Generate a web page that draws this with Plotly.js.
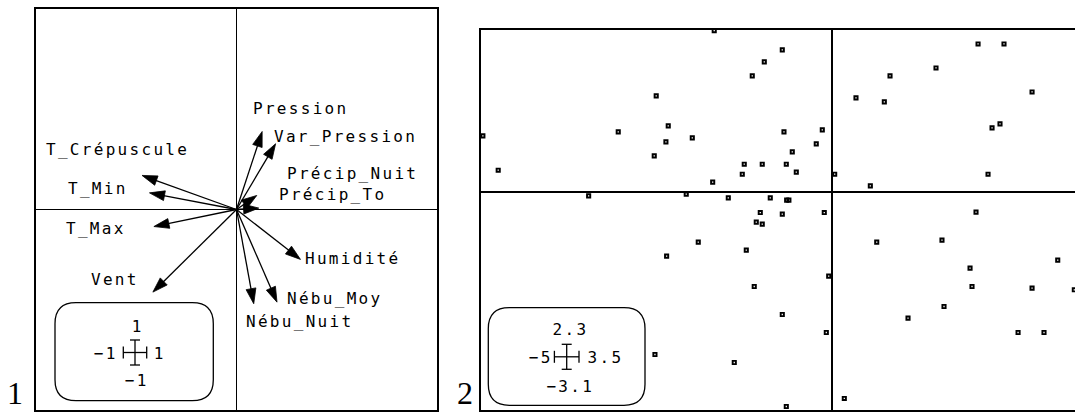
<!DOCTYPE html>
<html><head><meta charset="utf-8">
<script src="https://cdn.plot.ly/plotly-3.0.1.min.js"></script>
<style>html,body{margin:0;padding:0;overflow:hidden;background:#fff}</style>
</head><body><div id="chart"></div>
<script>
// ---- Data: panel 1, correlation circle (variables on axes 1 and 2)
const VARIABLES = ['T_Crépuscule','T_Min','T_Max','Vent','Pression','Var_Pression','Précip_Nuit','Précip_To','Humidité','Nébu_Moy','Nébu_Nuit'];
const VAR_AXIS1 = [-0.471,-0.434,-0.412,-0.417, 0.128, 0.195, 0.101, 0.111, 0.319, 0.202, 0.086];
const VAR_AXIS2 = [ 0.170, 0.083,-0.085,-0.412, 0.389, 0.328, 0.070, 0.007,-0.249,-0.462,-0.470];

// ---- Data: panel 2, observations (scores on axes 1 and 2)
const OBS_AXIS1 = [-2.504,-2.333,-3.044,-4.969,-2.366,-2.532,-4.751,-1.679,-0.711,-0.967,-1.138,-1.991,-0.687,-0.142,-0.228,-0.569,-1.252,-0.996,-0.654,-1.280,-0.512,-1.701,
  0.034,0.337,0.541,2.073,2.442,1.475,0.821,2.841,0.740,2.385,2.272,2.215,
  -3.465,-2.077,-1.479,-0.882,-0.649,-0.617,-1.024,-0.711,-0.114,-2.356,-2.522,-1.081,-0.996,-1.906,-1.223,-0.051,-1.110,-0.711,-0.085,-1.394,-0.654,
  0.171,0.632,1.560,1.959,1.987,1.589,1.077,3.206,2.841,3.442,2.642,3.011,2.044];
const OBS_AXIS2 = [1.364,0.938,0.852,0.795,0.710,0.511,0.308,2.290,2.017,1.847,1.648,0.767,0.852,0.881,0.682,0.568,0.393,0.393,0.393,0.251,0.280,0.138,
  0.251,1.335,0.085,2.102,2.102,1.761,1.648,1.420,1.278,0.966,0.909,0.251,
  -0.057,-0.033,-0.085,-0.085,-0.118,-0.118,-0.294,-0.317,-0.294,-0.913,-2.311,-0.430,-0.459,-0.714,-0.828,-1.197,-1.345,-1.743,-1.999,-2.425,-3.050,
  -2.936,-0.714,-0.686,-1.084,-1.345,-1.629,-1.794,-0.970,-1.368,-1.392,-1.999,-1.999,-0.288];

// ---- Scale extents shown in the little legend boxes (and used as axis ranges)
const SCALE1_X = [-1, 1];
const SCALE1_Y = [-1, 1];
const SCALE2_X = [-5, 3.5];
const SCALE2_Y = [-3.1, 2.3];
const PANEL_NAMES = ['1', '2'];

// ---- Layout / styling (pixels)
const W = 1080, H = 412;
const LABEL_SHIFT_X = [-98,-83,-89.7,-63.7,-11.3,-4,28.3,18.7,2.6,8,-9.7];
const LABEL_SHIFT_Y = [25.7,4.7,-2.3,12.6,23.4,7.7,21.7,14,1.4,4,-17.3];
const FONT = {family:'DejaVu Sans Mono', size:16, color:'#000'};
const SPACING = '2.3px';

const px = x => x / W;
const py = y => 1 - y / H;
const fmt = v => (v < 0 ? '\u2212' : '') + Math.abs(v);

// arrows trace
const ax = [], ay = [], asz = [];
VARIABLES.forEach((v, i) => {
  ax.push(0, VAR_AXIS1[i], null);
  ay.push(0, VAR_AXIS2[i], null);
  asz.push(0, 16, 0);
});
const arrows = {
  type:'scatter', mode:'lines+markers', x:ax, y:ay, xaxis:'x', yaxis:'y',
  line:{color:'#000', width:1.3},
  marker:{symbol:'arrow', size:asz, color:'#000', opacity:1, angleref:'previous', line:{width:0.8, color:'#000'}},
  hoverinfo:'skip', cliponaxis:false
};
const obs = {
  type:'scatter', mode:'markers', x:OBS_AXIS1, y:OBS_AXIS2, xaxis:'x2', yaxis:'y2',
  marker:{symbol:'square-open', size:3.2, color:'#000', line:{width:1.9, color:'#000'}},
  hoverinfo:'skip'
};

function axis(domain, range, zw) {
  return {domain, range, showline:true, mirror:true, linecolor:'#000', linewidth:2,
    zeroline:true, zerolinecolor:'#000', zerolinewidth:zw, showgrid:false,
    showticklabels:false, ticks:'', fixedrange:true};
}

function roundRect(x0, y0, x1, y1, r) {
  const P = (x, y) => px(x) + ',' + py(y);
  return 'M' + P(x0 + r, y0) + ' L' + P(x1 - r, y0) + ' Q' + P(x1, y0) + ' ' + P(x1, y0 + r) +
    ' L' + P(x1, y1 - r) + ' Q' + P(x1, y1) + ' ' + P(x1 - r, y1) +
    ' L' + P(x0 + r, y1) + ' Q' + P(x0, y1) + ' ' + P(x0, y1 - r) +
    ' L' + P(x0, y0 + r) + ' Q' + P(x0, y0) + ' ' + P(x0 + r, y0) + ' Z';
}
function seg(x0, y0, x1, y1) {
  return {type:'line', xref:'paper', yref:'paper', x0:px(x0), y0:py(y0), x1:px(x1), y1:py(y1),
    line:{color:'#000', width:1.3}};
}
function cross(cx, cy, hx, hy) {
  return [seg(cx - hx, cy, cx + hx, cy), seg(cx, cy - hy, cx, cy + hy),
    seg(cx - hx, cy - 6, cx - hx, cy + 6), seg(cx + hx, cy - 6, cx + hx, cy + 6),
    seg(cx - 5, cy - hy, cx + 5, cy - hy), seg(cx - 5, cy + hy, cx + 5, cy + hy)];
}

const shapes = [
  {type:'path', xref:'paper', yref:'paper', path:roundRect(55, 302.7, 213.3, 400.7, 21), line:{color:'#000', width:1.3}},
  {type:'path', xref:'paper', yref:'paper', path:roundRect(488.3, 307.7, 645, 405.3, 21), line:{color:'#000', width:1.3}},
  ...cross(135, 352.5, 11.7, 12.5),
  ...cross(566.7, 356.8, 12.3, 12.5)
];

const annotations = [];
const spaced = [];
VARIABLES.forEach((v, i) => {
  spaced.push(annotations.length);
  annotations.push({xref:'x', yref:'y', x:VAR_AXIS1[i], y:VAR_AXIS2[i], text:v, showarrow:false,
    xanchor:'left', yanchor:'middle', align:'left', xshift:LABEL_SHIFT_X[i], yshift:LABEL_SHIFT_Y[i], font:FONT});
});
function ptext(x, y, t) {
  spaced.push(annotations.length);
  annotations.push({xref:'paper', yref:'paper', x:px(x), y:py(y), text:t, showarrow:false,
    xanchor:'center', yanchor:'middle', font:FONT});
}
ptext(137.5, 326.5, fmt(SCALE1_Y[1]));
ptext(105, 353.3, fmt(SCALE1_X[0]));
ptext(160, 353.3, fmt(SCALE1_X[1]));
ptext(136.5, 380.3, fmt(SCALE1_Y[0]));
ptext(570, 329.3, fmt(SCALE2_Y[1]));
ptext(540, 357.7, fmt(SCALE2_X[0]));
ptext(605, 357.7, fmt(SCALE2_X[1]));
ptext(570, 386, fmt(SCALE2_Y[0]));
annotations.push({xref:'paper', yref:'paper', x:px(15), y:py(393), text:PANEL_NAMES[0], showarrow:false,
  xanchor:'center', yanchor:'middle', font:{family:'Liberation Serif', size:32, color:'#000'}});
annotations.push({xref:'paper', yref:'paper', x:px(465), y:py(393), text:PANEL_NAMES[1], showarrow:false,
  xanchor:'center', yanchor:'middle', font:{family:'Liberation Serif', size:32, color:'#000'}});

const layout = {
  width:W, height:H, margin:{l:0, r:0, t:0, b:0}, showlegend:false,
  paper_bgcolor:'#fff', plot_bgcolor:'#fff',
  xaxis:Object.assign(axis([36 / W, 437 / W], SCALE1_X, 1.5), {anchor:'y'}),
  yaxis:Object.assign(axis([2 / H, 403 / H], SCALE1_Y, 1.5), {anchor:'x'}),
  xaxis2:Object.assign(axis([480.7 / W, 1078.4 / W], SCALE2_X, 2), {anchor:'y2'}),
  yaxis2:Object.assign(axis([2 / H, 382 / H], SCALE2_Y, 2), {anchor:'x2'}),
  shapes, annotations
};

Plotly.newPlot('chart', [arrows, obs], layout, {staticPlot:true, displayModeBar:false}).then(() => {
  spaced.forEach(i => {
    const t = document.querySelector('g.annotation[data-index="' + i + '"] text.annotation-text');
    if (t) t.style.letterSpacing = SPACING;
  });
});
</script></body></html>
